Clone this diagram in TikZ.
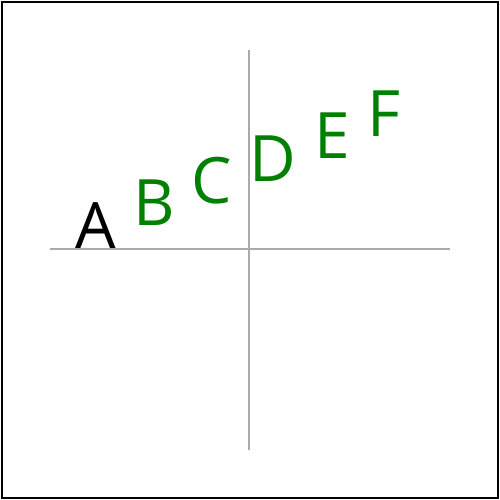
\documentclass[tikz,border=0pt]{standalone}
\usepackage{fontspec}
\setmainfont{Open Sans}
\definecolor{axisgray}{HTML}{AAAAAA}
\definecolor{lettergreen}{HTML}{008000}
\tikzset{
  letter/.style={inner sep=0pt, outer sep=0pt, anchor=base, font=\fontsize{64}{64}\selectfont},
  axis/.style={draw=axisgray, line width=1.5pt}
}
\begin{document}
\begin{tikzpicture}[x=1pt,y=1pt]
\useasboundingbox (0,0) rectangle (500,500);
\draw[line width=2pt] (2,2) rectangle (498,498);
\coordinate (hl) at (50,251);
\coordinate (hr) at (450,251);
\coordinate (vt) at (249,450);
\coordinate (vb) at (249,50);
\draw[axis] (hl) -- (hr);
\draw[axis] (vb) -- (vt);
\node[letter] (A) at (95.5,251) {A};
\node[letter, text=lettergreen] (B) at (154,274) {B};
\node[letter, text=lettergreen] (C) at (212,296.5) {C};
\node[letter, text=lettergreen] (D) at (273,318) {D};
\node[letter, text=lettergreen] (E) at (332,341) {E};
\node[letter, text=lettergreen] (F) at (384,363) {F};
\end{tikzpicture}
\end{document}
